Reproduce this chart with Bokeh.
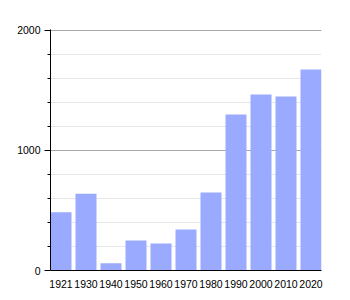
from bokeh.plotting import figure
from bokeh.models import Range1d, FixedTicker
from bokeh.embed import file_html
from bokeh.resources import INLINE

years = ["1921", "1930", "1940", "1950", "1960", "1970", "1980", "1990", "2000", "2010", "2020"]
population = [485, 640, 60, 250, 225, 342, 650, 1300, 1467, 1450, 1675]
y_major = [0, 1000, 2000]
y_minor = [200, 400, 600, 800, 1200, 1400, 1600, 1800]

BAR_W = 0.84
xs = list(range(len(years)))

p = figure(width=350, height=300, output_backend="svg", toolbar_location=None,
           x_range=Range1d(0, len(years) - 1 + BAR_W), y_range=Range1d(0, 2008),
           min_border_left=50, min_border_right=29, min_border_top=29, min_border_bottom=30)
p.outline_line_color = None
p.background_fill_color = "white"

p.vbar(x=[x + BAR_W / 2 for x in xs], top=population, width=BAR_W, bottom=0,
       fill_color="#99aaff", line_color=None)

# y axis
ya = p.yaxis[0]
ya.ticker = FixedTicker(ticks=y_major, minor_ticks=y_minor)
ya.axis_line_color = "black"
ya.major_tick_line_color = "black"
ya.minor_tick_line_color = "black"
ya.major_tick_out = 6
ya.major_tick_in = 0
ya.minor_tick_out = 3
ya.minor_tick_in = 0
ya.major_label_text_font = "Liberation Sans"
ya.major_label_text_font_size = "10.5px"
ya.major_label_text_color = "black"
ya.major_label_standoff = 4

# x axis
xa = p.xaxis[0]
xa.ticker = FixedTicker(ticks=[x + BAR_W / 2 for x in xs])
xa.major_label_overrides = {x + BAR_W / 2: y for x, y in zip(xs, years)}
xa.axis_line_color = "black"
xa.major_tick_line_color = None
xa.minor_tick_line_color = None
xa.major_label_text_font = "Liberation Sans"
xa.major_label_text_font_size = "10.5px"
xa.major_label_text_color = "black"
xa.major_label_standoff = 3

# grids
p.xgrid.grid_line_color = None
p.ygrid.grid_line_color = "#a8a8a8"
p.ygrid.minor_grid_line_color = "#e6e6e6"

open("out.html", "w").write(file_html(p, INLINE))
